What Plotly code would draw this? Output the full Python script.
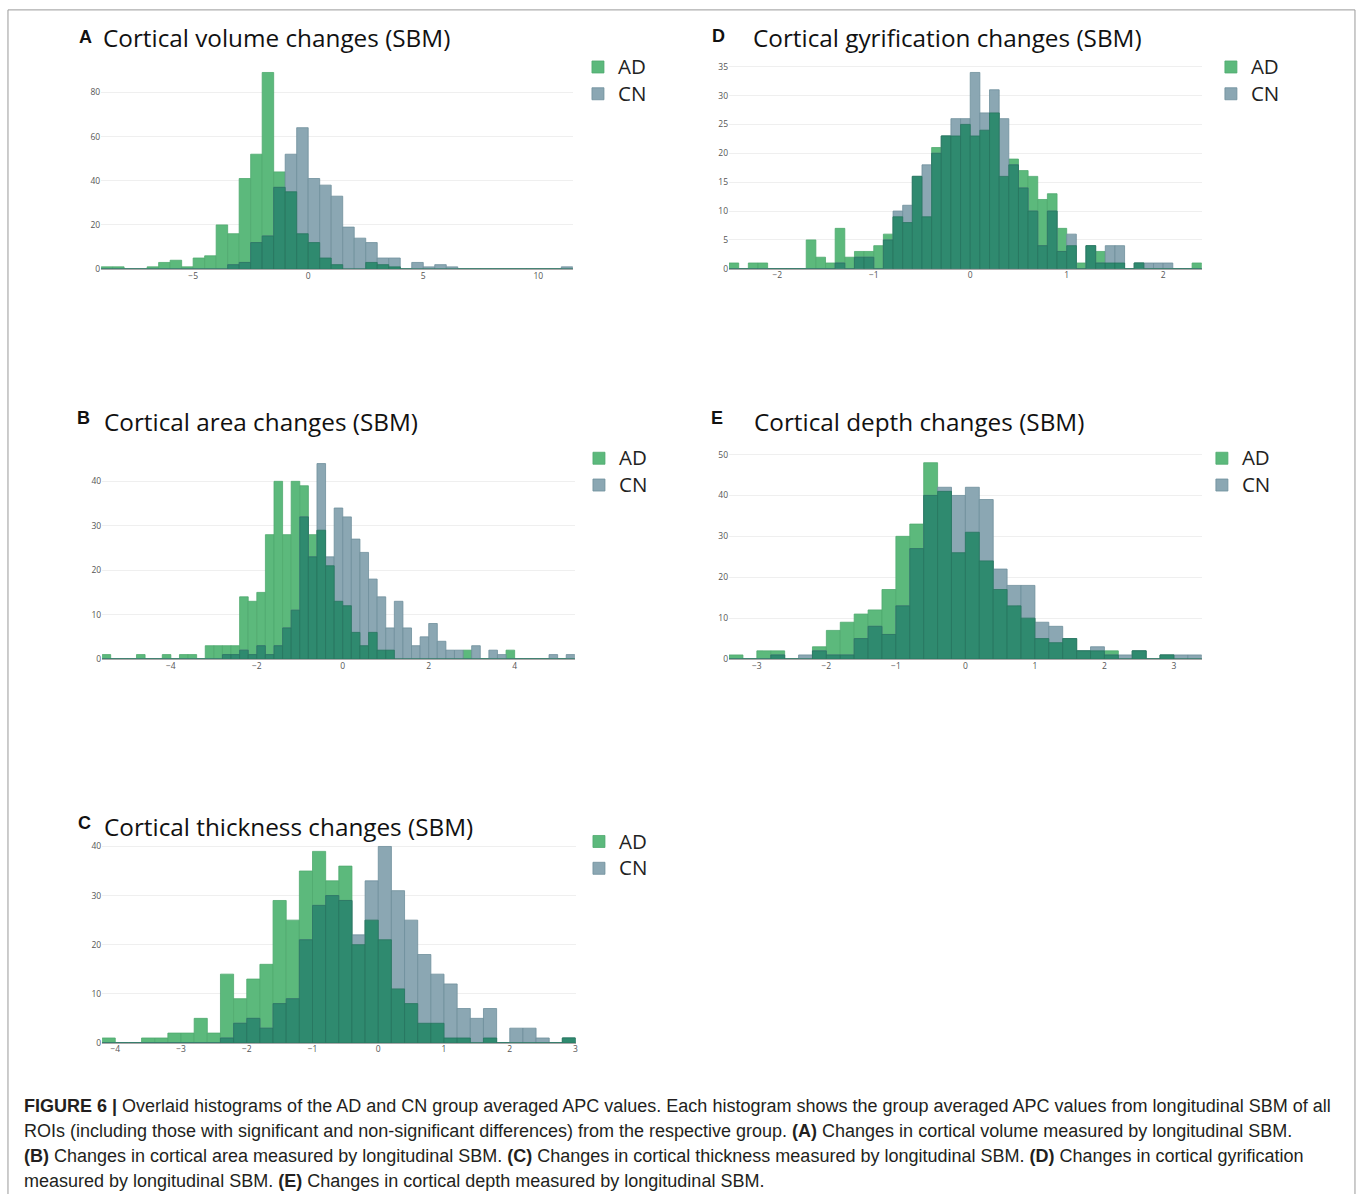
import plotly.graph_objects as go

# ---------------- data (counts per bin) ----------------
A_start, A_bin = -9.0, 0.5
A_ad = [1, 1, 0, 0, 1, 3, 4, 1, 5, 6, 20, 16, 41, 52, 89, 44, 35, 16, 12, 5, 2,
        0, 0, 3, 2, 1, 0, 0, 0, 0, 0, 0, 0, 0, 0, 0, 0, 0, 0, 0, 0]
A_cn = [0, 0, 0, 0, 0, 0, 0, 0, 0, 0, 0, 2, 3, 12, 15, 37, 52, 64, 41, 38, 33,
        19, 14, 12, 5, 5, 0, 3, 1, 2, 1, 0, 0, 0, 0, 0, 0, 0, 0, 0, 1]

D_start, D_bin = -2.5, 0.1
D_ad = [1, 0, 1, 1, 0, 0, 0, 0, 5, 2, 1, 7, 2, 3, 3, 4, 6, 9, 8, 16, 9, 21, 23, 23, 25,
        23, 24, 27, 16, 19, 17, 16, 12, 13, 7, 4, 1, 4, 3, 1, 1, 0, 1, 0, 0, 0, 0, 0, 1]
D_cn = [0, 0, 0, 0, 0, 0, 0, 0, 0, 0, 0, 1, 0, 2, 2, 0, 5, 10, 11, 16, 18, 20, 23, 26, 26,
        34, 27, 31, 26, 18, 14, 10, 4, 10, 3, 6, 0, 4, 1, 4, 4, 0, 1, 1, 1, 1, 0, 0, 0]

B_start, B_bin = -5.6, 0.2
B_ad = [1, 0, 0, 0, 1, 0, 0, 1, 0, 1, 1, 0, 3, 3, 3, 3, 14, 13, 15, 28, 40, 28, 40, 39, 28,
        29, 21, 13, 12, 6, 3, 6, 2, 2, 0, 0, 0, 0, 0, 0, 0, 0, 2, 0, 0, 0, 0, 2, 0, 0,
        0, 0, 0, 0, 0]
B_cn = [0, 0, 0, 0, 0, 0, 0, 0, 0, 0, 0, 0, 0, 0, 1, 1, 2, 1, 3, 1, 3, 7, 11, 32, 23,
        44, 23, 34, 32, 27, 24, 18, 14, 7, 13, 7, 3, 5, 8, 4, 2, 2, 0, 3, 0, 2, 1, 0, 0, 0,
        0, 0, 1, 0, 1]

E_start, E_bin = -3.4, 0.2
E_ad = [1, 0, 2, 2, 0, 0, 3, 7, 9, 11, 12, 17, 30, 33, 48, 41, 26, 31, 24, 17, 13, 10,
        5, 4, 5, 2, 2, 2, 0, 2, 0, 1, 0, 0]
E_cn = [0, 0, 0, 1, 0, 1, 2, 1, 1, 5, 8, 6, 13, 27, 40, 42, 40, 42, 39, 22, 18, 18,
        9, 8, 5, 2, 3, 1, 1, 2, 0, 1, 1, 1]

C_start, C_bin = -4.2, 0.2
C_ad = [1, 0, 0, 1, 1, 2, 2, 5, 2, 14, 9, 13, 16, 29, 25, 35, 39, 33, 36, 20, 25, 21,
        11, 8, 4, 4, 1, 1, 0, 1, 0, 0, 0, 0, 0, 1]
C_cn = [0, 0, 0, 0, 0, 0, 0, 0, 0, 1, 4, 5, 3, 8, 9, 21, 28, 30, 29, 22, 33, 40,
        31, 25, 18, 14, 12, 7, 5, 7, 0, 3, 3, 1, 0, 1]

letters = ["A", "B", "C", "D", "E"]
titles = ["Cortical volume changes (SBM)", "Cortical area changes (SBM)",
          "Cortical thickness changes (SBM)", "Cortical gyrification changes (SBM)",
          "Cortical depth changes (SBM)"]
series_names = ["AD", "CN"]

caption_lines = [
    "<b>FIGURE 6 |</b> Overlaid histograms of the AD and CN group averaged APC values. Each histogram shows the group averaged APC values from longitudinal SBM of all",
    "ROIs (including those with significant and non-significant differences) from the respective group. <b>(A)</b> Changes in cortical volume measured by longitudinal SBM.",
    "<b>(B)</b> Changes in cortical area measured by longitudinal SBM. <b>(C)</b> Changes in cortical thickness measured by longitudinal SBM. <b>(D)</b> Changes in cortical gyrification",
    "measured by longitudinal SBM. <b>(E)</b> Changes in cortical depth measured by longitudinal SBM.",
]

# ---------------- layout helpers ----------------
W, H = 1357, 1194
def px(x):
    return (x - 2.04) / 0.9963
def py(y):
    return (y - 4.1) / 0.9918
def fx(x):
    return px(x) / W
def fy(y):
    return 1 - py(y) / H

AD_COL, AD_LINE = "#5cb97c", "#4fa96e"
CN_COL, CN_LINE = "#8ba7b3", "#6f8f9c"
OV_COL, OV_LINE = "#2f8a6f", "#277660"

panels = [
    dict(start=A_start, bin=A_bin, ad=A_ad, cn=A_cn, xr=[-9, 11.5], xd=(103, 574), yd=(62.6, 269),
         ymax=93.5, dx=5, dy=20, title=(87, 37, 103, 38), leg=(618, 67)),
    dict(start=B_start, bin=B_bin, ad=B_ad, cn=B_cn, xr=[-5.6, 5.4], xd=(104, 576), yd=(453.6, 658.7),
         ymax=46.2, dx=2, dy=10, title=(85, 418, 104, 421), leg=(619, 458)),
    dict(start=C_start, bin=C_bin, ad=C_ad, cn=C_cn, xr=[-4.2, 3.0], xd=(104, 576.7), yd=(836.2, 1042.3),
         ymax=42, dx=1, dy=10, title=(86, 823, 104, 826), leg=(619, 841)),
    dict(start=D_start, bin=D_bin, ad=D_ad, cn=D_cn, xr=[-2.5, 2.4], xd=(730, 1202), yd=(62.7, 268.7),
         ymax=35.7, dx=1, dy=5, title=(719, 36, 752, 38), leg=(1250, 67)),
    dict(start=E_start, bin=E_bin, ad=E_ad, cn=E_cn, xr=[-3.4, 3.4], xd=(730, 1202), yd=(452.7, 658.7),
         ymax=50.4, dx=1, dy=10, title=(718, 418, 753, 421), leg=(1241, 458)),
]

fig = go.Figure()
layout = dict(width=W, height=H, margin=dict(l=0, r=0, t=0, b=0),
              paper_bgcolor="white", plot_bgcolor="white", barmode="overlay",
              font=dict(family="Open Sans", color="#444"), annotations=[], shapes=[])

tickfont = dict(family="Open Sans", size=8.5, color="#555")

for i, p in enumerate(panels):
    n = "" if i == 0 else str(i + 1)
    xa, ya = "x" + n, "y" + n
    lg = "legend" + n
    overlap = [min(a, c) for a, c in zip(p["ad"], p["cn"])]
    common = dict(x0=p["start"], dx=p["bin"], width=p["bin"], offset=0,
                  xaxis=xa, yaxis=ya, legend=lg, hoverinfo="skip")
    fig.add_trace(go.Bar(y=p["ad"], name='<span style="font-size:20.5px">%s</span>' % series_names[0],
                         marker=dict(color=AD_COL, line=dict(color=AD_LINE, width=0.8)), **common))
    fig.add_trace(go.Bar(y=p["cn"], name='<span style="font-size:20.5px">%s</span>' % series_names[1],
                         marker=dict(color=CN_COL, line=dict(color=CN_LINE, width=0.8)), **common))
    fig.add_trace(go.Bar(y=overlap, showlegend=False,
                         marker=dict(color=OV_COL, line=dict(color=OV_LINE, width=0.8)), **common))

    layout["xaxis" + n] = dict(domain=[fx(p["xd"][0]), fx(p["xd"][1])], range=p["xr"], anchor=ya,
                               showgrid=False, zeroline=False, showline=False, dtick=p["dx"],
                               tick0=0, ticks="", tickfont=tickfont)
    layout["yaxis" + n] = dict(domain=[fy(p["yd"][1]), fy(p["yd"][0])], range=[0, p["ymax"]], anchor=xa,
                               showgrid=True, gridcolor="#efefef", gridwidth=1,
                               zeroline=True, zerolinecolor="#a9a9a9", zerolinewidth=2,
                               dtick=p["dy"], tick0=0, ticks="", tickfont=tickfont)
    leg_left = px(p["leg"][0]) - 39
    leg_top = py(p["leg"][1]) - 18.5
    layout[lg] = dict(x=leg_left / W, y=1 - leg_top / H, xanchor="left", yanchor="top",
                      font=dict(family="Open Sans", size=18.3, color="#222"),
                      bgcolor="rgba(0,0,0,0)", tracegroupgap=0, itemclick=False)

    lx, ly, tx, ty = p["title"]
    layout["annotations"].append(dict(text="<b>%s</b>" % letters[i], x=fx(lx), y=fy(ly), xref="paper",
                                      yref="paper", xanchor="center", yanchor="middle", showarrow=False,
                                      font=dict(family="Liberation Sans", size=18, color="#111")))
    layout["annotations"].append(dict(text=titles[i], x=fx(tx), y=fy(ty), xref="paper", yref="paper",
                                      xanchor="left", yanchor="middle", showarrow=False,
                                      font=dict(family="Open Sans", size=24.3, color="#111")))

cap_y = [1105, 1130, 1155, 1180]
for line, yy in zip(caption_lines, cap_y):
    layout["annotations"].append(dict(text=line, x=fx(24), y=fy(yy), xref="paper", yref="paper",
                                      xanchor="left", yanchor="middle", showarrow=False,
                                      font=dict(family="Liberation Sans Narrow, Arial Narrow, Liberation Sans",
                                                size=18, color="#231f20")))

layout["shapes"].append(dict(type="rect", xref="paper", yref="paper", x0=fx(10), x1=fx(1355),
                             y0=-0.02, y1=fy(10), line=dict(color="#9a9a9a", width=1)))

fig.update_layout(**layout)
fig.write_html("out.html")
